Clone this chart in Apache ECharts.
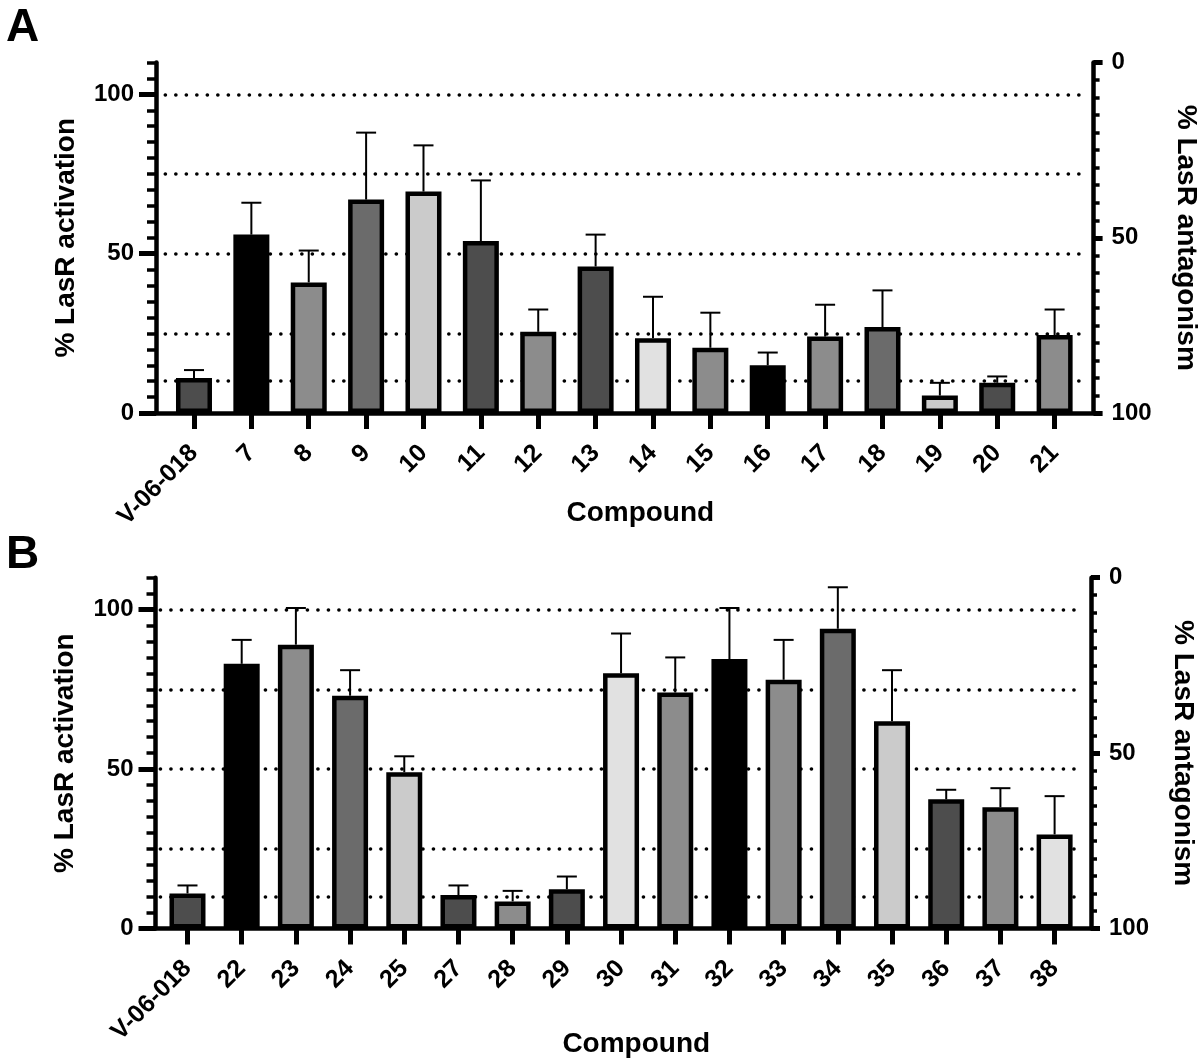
<!DOCTYPE html>
<html>
<head>
<meta charset="utf-8">
<script src="https://cdn.jsdelivr.net/npm/echarts@6/dist/echarts.min.js"></script>
<style>html,body{margin:0;padding:0;background:#fff}#c{width:1200px;height:1064px}</style>
</head>
<body>
<div id="c"></div>
<script>
// ---- data ----
const categoriesA = ['V-06-018','7','8','9','10','11','12','13','14','15','16','17','18','19','20','21'];
const valuesA = [11, 56, 41, 67, 69.5, 54, 25.5, 46, 23.5, 20.5, 15, 24, 27, 5.5, 9.5, 24.5];
const errorsA = [2.5, 10, 10, 21, 14.5, 19, 7, 10, 13, 11, 4, 10, 11.5, 4, 2, 8];

const categoriesB = ['V-06-018','22','23','24','25','27','28','29','30','31','32','33','34','35','36','37','38'];
const valuesB = [11, 83, 89, 73, 49, 10.5, 8.5, 12.3, 80, 74, 84.5, 78, 94, 65, 40.5, 38, 29.5];
const errorsB = [2.5, 7.5, 11.5, 8, 5, 3, 3.3, 4, 12.5, 11, 16, 12.5, 13, 16, 3, 6, 12];

const referenceLines = [10, 25, 50, 75, 100];
const leftTickLabels = [0, 50, 100];
const rightTickLabels = [0, 50, 100];

const fillA = ['#4d4d4d','#000000','#8c8c8c','#6b6b6b','#cbcbcb','#4d4d4d','#8c8c8c','#4d4d4d','#e1e1e1','#8c8c8c','#000000','#8c8c8c','#6b6b6b','#cbcbcb','#4d4d4d','#8c8c8c'];
const fillB = ['#4d4d4d','#000000','#8c8c8c','#6b6b6b','#cbcbcb','#4d4d4d','#8c8c8c','#4d4d4d','#e1e1e1','#8c8c8c','#000000','#8c8c8c','#6b6b6b','#cbcbcb','#4d4d4d','#8c8c8c','#e1e1e1'];

// ---- styling ----
const FONT = "'Liberation Sans', Arial, Helvetica, sans-serif";
const BLACK = '#000';

function outerX(gridIndex, gap, pad) {
  return {
    type: 'value', gridIndex: gridIndex, min: 0, max: 1, position: 'bottom',
    axisLine: { show: true, onZero: false, lineStyle: { color: BLACK, width: 4.5 } },
    axisTick: { show: false }, axisLabel: { show: false }, splitLine: { show: false },
    name: 'Compound', nameLocation: 'middle', nameGap: gap,
    nameTextStyle: { fontFamily: FONT, fontWeight: 'bold', fontSize: 28, color: BLACK, padding: [0, 0, 0, pad] }
  };
}
function innerX(gridIndex, cats) {
  return {
    type: 'category', gridIndex: gridIndex, data: cats, boundaryGap: true, position: 'bottom',
    axisLine: { show: false, onZero: false },
    axisTick: { show: true, alignWithLabel: true, length: 16, lineStyle: { color: BLACK, width: 5 } },
    axisLabel: { interval: 0, rotate: 45, margin: 36, fontFamily: FONT, fontWeight: 'bold', fontSize: 25, color: BLACK },
    splitLine: { show: false }
  };
}
function yAxesFor(outerGrid, innerGrid) {
  const lbl = (v) => (leftTickLabels.indexOf(v) >= 0 ? String(v) : '');
  const rlbl = (v) => (rightTickLabels.indexOf(v) >= 0 ? String(v) : '');
  return [
    { // left axis with minor ticks + labels
      type: 'value', gridIndex: outerGrid, position: 'left', min: 0, max: 110, interval: 5,
      axisLine: { show: true, lineStyle: { color: BLACK, width: 4.5 } },
      axisTick: { show: true, length: 9, lineStyle: { color: BLACK, width: 3.5 } },
      axisLabel: { formatter: lbl, margin: 22, fontFamily: FONT, fontWeight: 'bold', fontSize: 24, color: BLACK },
      splitLine: { show: false },
      name: '% LasR activation', nameLocation: 'middle', nameGap: 76, nameRotate: 90,
      nameTextStyle: { fontFamily: FONT, fontWeight: 'bold', fontSize: 28, color: BLACK }
    },
    { // left major ticks
      type: 'value', gridIndex: outerGrid, position: 'left', min: 0, max: 110,
      axisLine: { show: false },
      axisTick: { show: true, customValues: leftTickLabels, length: 17, lineStyle: { color: BLACK, width: 5 } },
      axisLabel: { show: false }, splitLine: { show: false }
    },
    { // right axis, inverted
      type: 'value', gridIndex: outerGrid, position: 'right', min: 0, max: 100, interval: 5, inverse: true,
      axisLine: { show: true, lineStyle: { color: BLACK, width: 4.5 } },
      axisTick: { show: true, length: 6, lineStyle: { color: BLACK, width: 3.5 } },
      axisLabel: { formatter: rlbl, margin: 18, fontFamily: FONT, fontWeight: 'bold', fontSize: 24, color: BLACK },
      splitLine: { show: false },
      name: '% LasR antagonism', nameLocation: 'middle', nameGap: 78, nameRotate: -90,
      nameTextStyle: { fontFamily: FONT, fontWeight: 'bold', fontSize: 28, color: BLACK }
    },
    { // right major ticks
      type: 'value', gridIndex: outerGrid, position: 'right', min: 0, max: 100, inverse: true,
      axisLine: { show: false },
      axisTick: { show: true, customValues: rightTickLabels, length: 9, lineStyle: { color: BLACK, width: 5 } },
      axisLabel: { show: false }, splitLine: { show: false }
    },
    { // data axis for the inner grid
      type: 'value', gridIndex: innerGrid, min: 0, max: 110, show: false
    }
  ];
}

function barSeries(xi, yi, values, fills) {
  return {
    type: 'bar', xAxisIndex: xi, yAxisIndex: yi, z: 3, barWidth: 36,
    data: values.map((v, i) => ({ value: v, itemStyle: { color: fills[i] } })),
    itemStyle: { borderColor: BLACK, borderWidth: 4.5 },
    markLine: {
      z: 1, silent: true, symbol: 'none', label: { show: false },
      lineStyle: { color: BLACK, width: 3.6, type: [0.1, 10.4], cap: 'round' },
      data: referenceLines.map(v => ({ yAxis: v }))
    }
  };
}
function errSeries(xi, yi, values, errors) {
  return {
    type: 'custom', xAxisIndex: xi, yAxisIndex: yi, z: 4,
    data: values.map((v, i) => [i, v, errors[i]]),
    encode: { x: 0, y: 1 },
    renderItem: function (params, api) {
      const i = api.value(0), v = api.value(1), e = api.value(2);
      const base = api.coord([i, v]);
      const top = api.coord([i, v + e]);
      const st = { stroke: BLACK, lineWidth: 2 };
      return {
        type: 'group',
        children: [
          { type: 'line', shape: { x1: base[0], y1: base[1], x2: top[0], y2: top[1] }, style: st },
          { type: 'line', shape: { x1: top[0] - 10, y1: top[1], x2: top[0] + 10, y2: top[1] }, style: st }
        ]
      };
    }
  };
}

const chart = echarts.init(document.getElementById('c'), null, { renderer: 'canvas' });
chart.setOption({
  animation: false,
  backgroundColor: '#fff',
  title: [
    { text: 'A', left: 1, top: 0, textStyle: { fontFamily: FONT, fontWeight: 'bold', fontSize: 46, color: BLACK } },
    { text: 'B', left: 1, top: 527, textStyle: { fontFamily: FONT, fontWeight: 'bold', fontSize: 46, color: BLACK } }
  ],
  grid: [
    { left: 156, top: 62.5, width: 937.6, height: 350.6, outerBoundsMode: 'none', containLabel: false },
    { left: 165.3, top: 62.5, width: 918, height: 350.6, outerBoundsMode: 'none', containLabel: false },
    { left: 155.5, top: 577.7, width: 935.5, height: 350.8, outerBoundsMode: 'none', containLabel: false },
    { left: 160.4, top: 577.7, width: 921.3, height: 350.8, outerBoundsMode: 'none', containLabel: false }
  ],
  xAxis: [
    outerX(0, 86, 31),
    innerX(1, categoriesA),
    outerX(2, 102, 26),
    innerX(3, categoriesB)
  ],
  yAxis: yAxesFor(0, 1).concat(yAxesFor(2, 3)),
  series: [
    barSeries(1, 4, valuesA, fillA),
    errSeries(1, 4, valuesA, errorsA),
    barSeries(3, 9, valuesB, fillB),
    errSeries(3, 9, valuesB, errorsB)
  ]
});
</script>
</body>
</html>
